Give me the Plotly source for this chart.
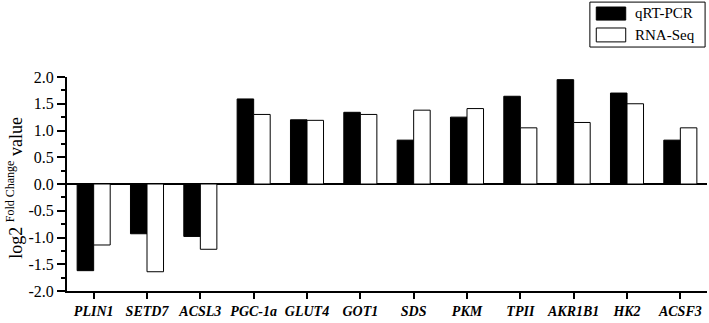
import plotly.graph_objects as go

genes = ["PLIN1", "SETD7", "ACSL3", "PGC-1a", "GLUT4", "GOT1", "SDS", "PKM", "TPII", "AKR1B1", "HK2", "ACSF3"]
qrt_pcr = [-1.62, -0.93, -0.98, 1.59, 1.20, 1.34, 0.82, 1.25, 1.64, 1.95, 1.70, 0.82]
rna_seq = [-1.14, -1.64, -1.22, 1.30, 1.19, 1.30, 1.38, 1.41, 1.05, 1.15, 1.50, 1.05]
y_ticks = [-2.0, -1.5, -1.0, -0.5, 0.0, 0.5, 1.0, 1.5, 2.0]
series_names = ["qRT-PCR", "RNA-Seq"]

FONT = "Liberation Serif, Times New Roman, serif"

fig = go.Figure()
fig.add_trace(go.Bar(x=genes, y=qrt_pcr, name=series_names[0],
                     marker=dict(color="black", line=dict(color="black", width=1)),
                     showlegend=False))
fig.add_trace(go.Bar(x=genes, y=rna_seq, name=series_names[1],
                     marker=dict(color="white", line=dict(color="black", width=1)),
                     showlegend=False))

fig.update_layout(
    width=709, height=323,
    margin=dict(l=67, r=2, t=77, b=32),
    paper_bgcolor="white", plot_bgcolor="white",
    barmode="group", bargap=0.38, bargroupgap=0.0,
    font=dict(family=FONT, color="black"),
    xaxis=dict(
        range=[-0.5, 11.5],
        showline=True, linecolor="black", linewidth=2,
        ticks="outside", ticklen=6, tickwidth=2, tickcolor="black",
        ticktext=[f"<b><i>{g}</i></b>" for g in genes], tickvals=genes,
        tickfont=dict(size=14, family=FONT),
        showgrid=False, zeroline=False,
    ),
    yaxis=dict(
        range=[-2.0, 2.0],
        tickvals=y_ticks, ticktext=[f"{v:.1f}" for v in y_ticks],
        showline=True, linecolor="black", linewidth=2,
        ticks="outside", ticklen=8, tickwidth=2, tickcolor="black",
        minor=dict(dtick=0.25, ticks="outside", ticklen=4, tickwidth=2, tickcolor="black"),
        tickfont=dict(size=16, family=FONT),
        showgrid=False,
        zeroline=True, zerolinecolor="black", zerolinewidth=2,
    ),
)

# y-axis title
fig.add_annotation(
    xref="paper", yref="paper", x=-0.082, y=0.48,
    text="log2 <sup><span style='font-size:12px'>Fold Change</span></sup> value", textangle=-90,
    showarrow=False, font=dict(size=18, family=FONT), xanchor="center", yanchor="middle",
)

# legend box
fig.add_shape(type="rect", xref="paper", yref="paper", x0=0.817, x1=0.997, y0=1.140, y1=1.350,
              line=dict(color="black", width=1), fillcolor="white")
fig.add_shape(type="rect", xref="paper", yref="paper", x0=0.827, x1=0.873, y0=1.266, y1=1.327,
              line=dict(color="black", width=1), fillcolor="black")
fig.add_shape(type="rect", xref="paper", yref="paper", x0=0.827, x1=0.873, y0=1.164, y1=1.229,
              line=dict(color="black", width=1), fillcolor="white")
fig.add_annotation(xref="paper", yref="paper", x=0.884, y=1.297, text=series_names[0],
                   showarrow=False, xanchor="left", yanchor="middle", font=dict(size=15, family=FONT))
fig.add_annotation(xref="paper", yref="paper", x=0.884, y=1.196, text=series_names[1],
                   showarrow=False, xanchor="left", yanchor="middle", font=dict(size=15, family=FONT))

fig.write_html("out.html", config={"displayModeBar": False},
               post_script="document.body.style.margin='0';document.body.style.overflow='hidden';")
